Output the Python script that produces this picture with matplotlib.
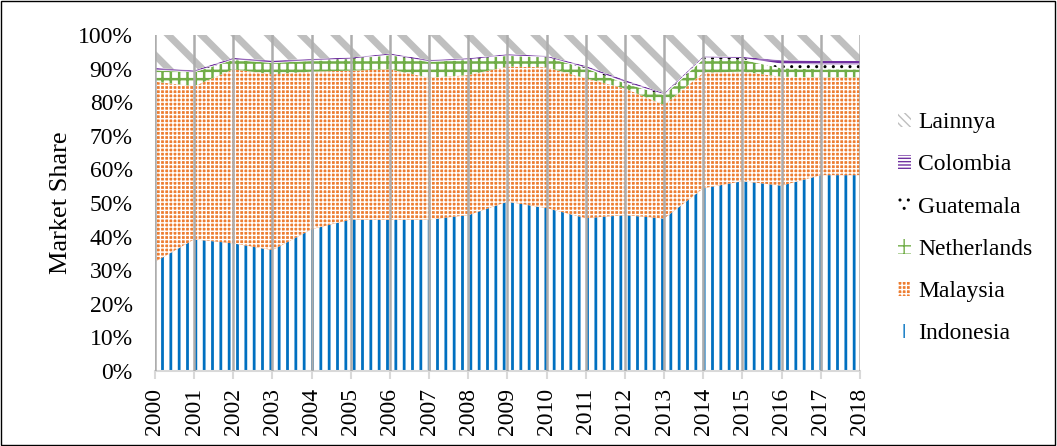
import numpy as np
import matplotlib
matplotlib.use("Agg")
import matplotlib.pyplot as plt
from matplotlib.patches import Rectangle, Patch

plt.rcParams['font.family'] = ['Liberation Serif', 'DejaVu Serif']

# market share data (%)
years = list(range(2000, 2019))
indonesia = [32.5, 39.2, 38.0, 36.0, 42.2, 45.1, 45.0, 45.1, 46.4, 50.4,
             48.5, 45.5, 46.4, 45.4, 54.4, 56.5, 55.2, 58.3, 58.3]
malaysia = [53.6, 45.6, 51.8, 52.3, 46.9, 44.3, 44.8, 42.2, 41.7, 40.2,
            41.9, 41.6, 37.7, 33.8, 34.4, 32.6, 32.4, 29.1, 29.1]
netherlands = [3.4, 4.1, 2.8, 3.4, 3.2, 3.4, 4.2, 4.7, 4.5, 3.2,
               2.9, 3.0, 1.5, 2.9, 4.0, 3.5, 2.5, 2.4, 2.4]
guatemala = [0.2, 0.2, 0.2, 0.2, 0.2, 0.2, 0.2, 0.2, 0.2, 0.2,
             0.2, 0.3, 0.5, 0.3, 0.6, 0.6, 1.4, 1.5, 1.5]
colombia = [0.5, 0.4, 0.4, 0.5, 0.4, 0.3, 0.3, 0.4, 0.3, 0.3,
            0.3, 0.4, 0.5, 0.3, 0.3, 0.3, 1.0, 1.0, 1.0]
lainnya = [100 - a - b - c - d - e for a, b, c, d, e in
           zip(indonesia, malaysia, netherlands, guatemala, colombia)]

series = [
    ("Indonesia", indonesia, "white", "#0070C0", "||", 2.0),
    ("Malaysia", malaysia, "#ED7D31", "white", "++++", 1.0),
    ("Netherlands", netherlands, "white", "#70AD47", "++", 1.8),
    ("Guatemala", guatemala, "white", "black", "..", 1.0),
    ("Colombia", colombia, "white", "#7030A0", "-----", 2.0),
    ("Lainnya", lainnya, "white", "#BFBFBF", "\\", 5.0),
]

fig = plt.figure(figsize=(10.57, 4.46), dpi=100)
ax = fig.add_axes([0.1466, 0.168, 0.667, 0.7535])

x = np.array(years)
base = np.zeros(len(years))
for name, vals, fc, hc, hatch, hlw in series:
    top = base + np.array(vals) / 100.0
    with plt.rc_context({'hatch.linewidth': hlw}):
        ax.fill_between(x, base, top, facecolor=fc, edgecolor=hc, hatch=hatch,
                        linewidth=0, label=name, zorder=1)
    base = top

for yr in years:
    ax.axvline(yr, color="#ADADAD", lw=1.8, zorder=3)

ax.set_xlim(2000, 2018)
ax.set_ylim(0, 1)
ax.set_yticks(np.arange(0, 1.01, 0.1))
ax.set_yticklabels([f"{int(round(v * 100))}%" for v in np.arange(0, 1.01, 0.1)], fontsize=17)
ax.set_xticks(years)
ax.set_xticklabels([str(y) for y in years], rotation=90, fontsize=17)
ax.tick_params(axis='y', length=0, pad=16)
ax.tick_params(axis='x', length=6, color="#D9D9D9", width=1.5, pad=6)
for s in ["left", "top", "right"]:
    ax.spines[s].set_visible(False)
ax.spines["bottom"].set_color("#D9D9D9")
ax.spines["bottom"].set_linewidth(1.5)
ax.set_ylabel("Market Share", fontsize=19, labelpad=4)

h, l = ax.get_legend_handles_labels()
# small hatched proxy for Lainnya so its key is visible
with plt.rc_context({'hatch.linewidth': 2.0}):
    h[-1] = Patch(facecolor="white", edgecolor="#BFBFBF", hatch="\\\\\\\\", linewidth=0)
ax.legend(h[::-1], l[::-1], loc="center left", bbox_to_anchor=(1.024, 0.425),
          frameon=False, fontsize=17, handlelength=0.55, handleheight=0.55,
          handletextpad=0.3, labelspacing=0.9)

fig.patches.append(Rectangle((0.001, 0.003), 0.997, 0.994, transform=fig.transFigure,
                             fill=False, edgecolor="black", lw=1))

fig.savefig("out.png", dpi=100)
